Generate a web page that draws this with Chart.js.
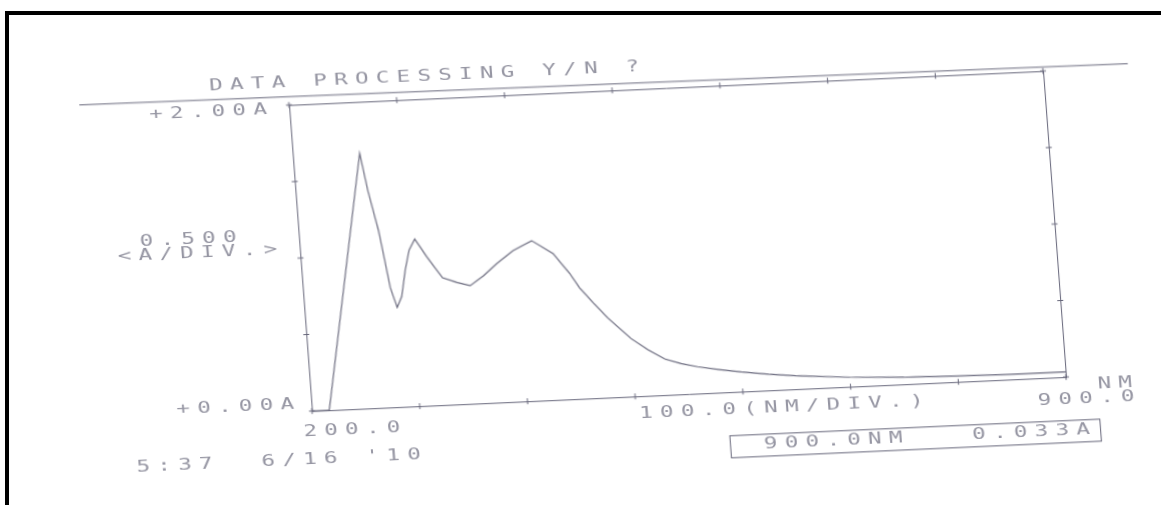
<!DOCTYPE html>
<html>
<head>
<meta charset="utf-8">
<script src="https://cdn.jsdelivr.net/npm/chart.js@4.4.1/dist/chart.umd.min.js"></script>
<style>
  html, body { margin: 0; padding: 0; background: #fff; overflow: hidden; }
  body { width: 1161px; height: 505px; position: relative; }
  .edge { position: absolute; background: #000; }
  /* the scanned sheet is slightly rotated and sheared */
  #paper { position: absolute; left: 0; top: 0; width: 1161px; height: 505px;
           transform-origin: 0 0; transform: matrix(1, -0.0451, 0.0752, 1, -7.9, 13.03); }
  #paper canvas { position: absolute; left: 0; top: 0; }
  .lbl { position: absolute; font-family: "DejaVu Sans Mono", monospace; font-size: 15px; line-height: 15px;
         color: #9696a3; letter-spacing: 4.85px; white-space: pre;
         transform-origin: 0 50%; transform: scaleX(1.5); }
</style>
</head>
<body>
<div class="edge" style="left:5px; top:11px; width:1156px; height:4px;"></div>
<div class="edge" style="left:5px; top:11px; width:4px; height:494px;"></div>
<div id="paper">
  <canvas id="spectrum" width="1161" height="505"></canvas>
</div>
<script>
// absorbance spectrum, 200-900 nm
const waveNm = [200, 216, 262, 267, 274, 277, 281, 286, 291, 296, 301, 307, 317, 330, 343, 355, 368, 381, 397, 415, 434, 448, 456, 468, 480, 500, 515, 530, 545, 560, 580, 600, 625, 650, 700, 750, 800, 850, 900];
const absorb = [0, 0, 1.665, 1.42, 1.16, 1.0, 0.78, 0.65, 0.72, 0.89, 1.02, 1.09, 0.97, 0.83, 0.795, 0.77, 0.83, 0.905, 0.985, 1.045, 0.955, 0.82, 0.725, 0.62, 0.52, 0.38, 0.30, 0.235, 0.2, 0.175, 0.15, 0.128, 0.105, 0.087, 0.062, 0.046, 0.038, 0.034, 0.033];

const nmRange = [200, 900];
const nmStep = 100;
const absRange = [0, 2];
const absStep = 0.5;

const ink = '#66667a';

// printed texts (paper coords: left, vertical centre)
const labels = [
    ['DATA PROCESSING Y/N ?', 211, 82],
    ['+2.00A', 149, 108],
    ['0.500', 130, 234],
    ['<A/DIV.>', 107, 248],
    ['+0.00A', 154, 403],
    ['200.0', 279, 431],
    ["5:37  6/16 '10", 110, 459],
    ['100.0(NM/DIV.)', 615, 428],
    ['NM', 1074, 419],
    ['900.0', 1013, 433],
    ['900.0NM   0.033A', 737, 464]
];

const paper = document.getElementById('paper');
labels.forEach(function (l) {
    const s = document.createElement('span');
    s.className = 'lbl';
    s.textContent = l[0];
    s.style.left = l[1] + 'px';
    s.style.top = (l[2] - 7.2) + 'px';
    paper.appendChild(s);
});

// tick crosses on all four sides, plus the rule line and the readout box
const plotterMarks = {
    id: 'plotterMarks',
    afterDraw(chart) {
        const ctx = chart.ctx;
        const a = chart.chartArea;
        const sx = chart.scales.x, sy = chart.scales.y;
        ctx.save();
        ctx.strokeStyle = ink;
        ctx.lineWidth = 1;
        ctx.beginPath();
        sx.ticks.forEach(function (t) {
            const p = sx.getPixelForValue(t.value);
            ctx.moveTo(p, a.top - 3); ctx.lineTo(p, a.top + 3);
            ctx.moveTo(p, a.bottom - 3); ctx.lineTo(p, a.bottom + 3);
        });
        sy.ticks.forEach(function (t) {
            const p = sy.getPixelForValue(t.value);
            ctx.moveTo(a.left - 3, p); ctx.lineTo(a.left + 3, p);
            ctx.moveTo(a.right - 3, p); ctx.lineTo(a.right + 3, p);
        });
        // rule under the prompt
        ctx.moveTo(80, 95.5); ctx.lineTo(1128, 101.5);
        ctx.stroke();
        ctx.strokeRect(703.5, 454.5, 370, 22);
        ctx.restore();
    }
};

function frameAxis(pos, range, step) {
    return {
        type: 'linear', position: pos, min: range[0], max: range[1],
        ticks: { display: false, stepSize: step },
        grid: { display: true, drawOnChartArea: false, drawTicks: false },
        border: { display: true, color: ink, width: 1 }
    };
}

const ctx = document.getElementById('spectrum').getContext('2d');
new Chart(ctx, {
    type: 'line',
    data: {
        datasets: [{
            data: waveNm.map(function (w, i) { return { x: w, y: absorb[i] }; }),
            borderColor: ink,
            borderWidth: 1.2,
            pointRadius: 0,
            tension: 0,
            fill: false
        }]
    },
    options: {
        responsive: false,
        animation: false,
        devicePixelRatio: 1,
        layout: { padding: { left: 289, top: 105, right: 118, bottom: 94 } },
        plugins: { legend: { display: false }, tooltip: { enabled: false } },
        scales: {
            x: frameAxis('bottom', nmRange, nmStep),
            xTop: frameAxis('top', nmRange, nmStep),
            y: frameAxis('left', absRange, absStep),
            yRight: frameAxis('right', absRange, absStep)
        }
    },
    plugins: [plotterMarks]
});
</script>
</body>
</html>
